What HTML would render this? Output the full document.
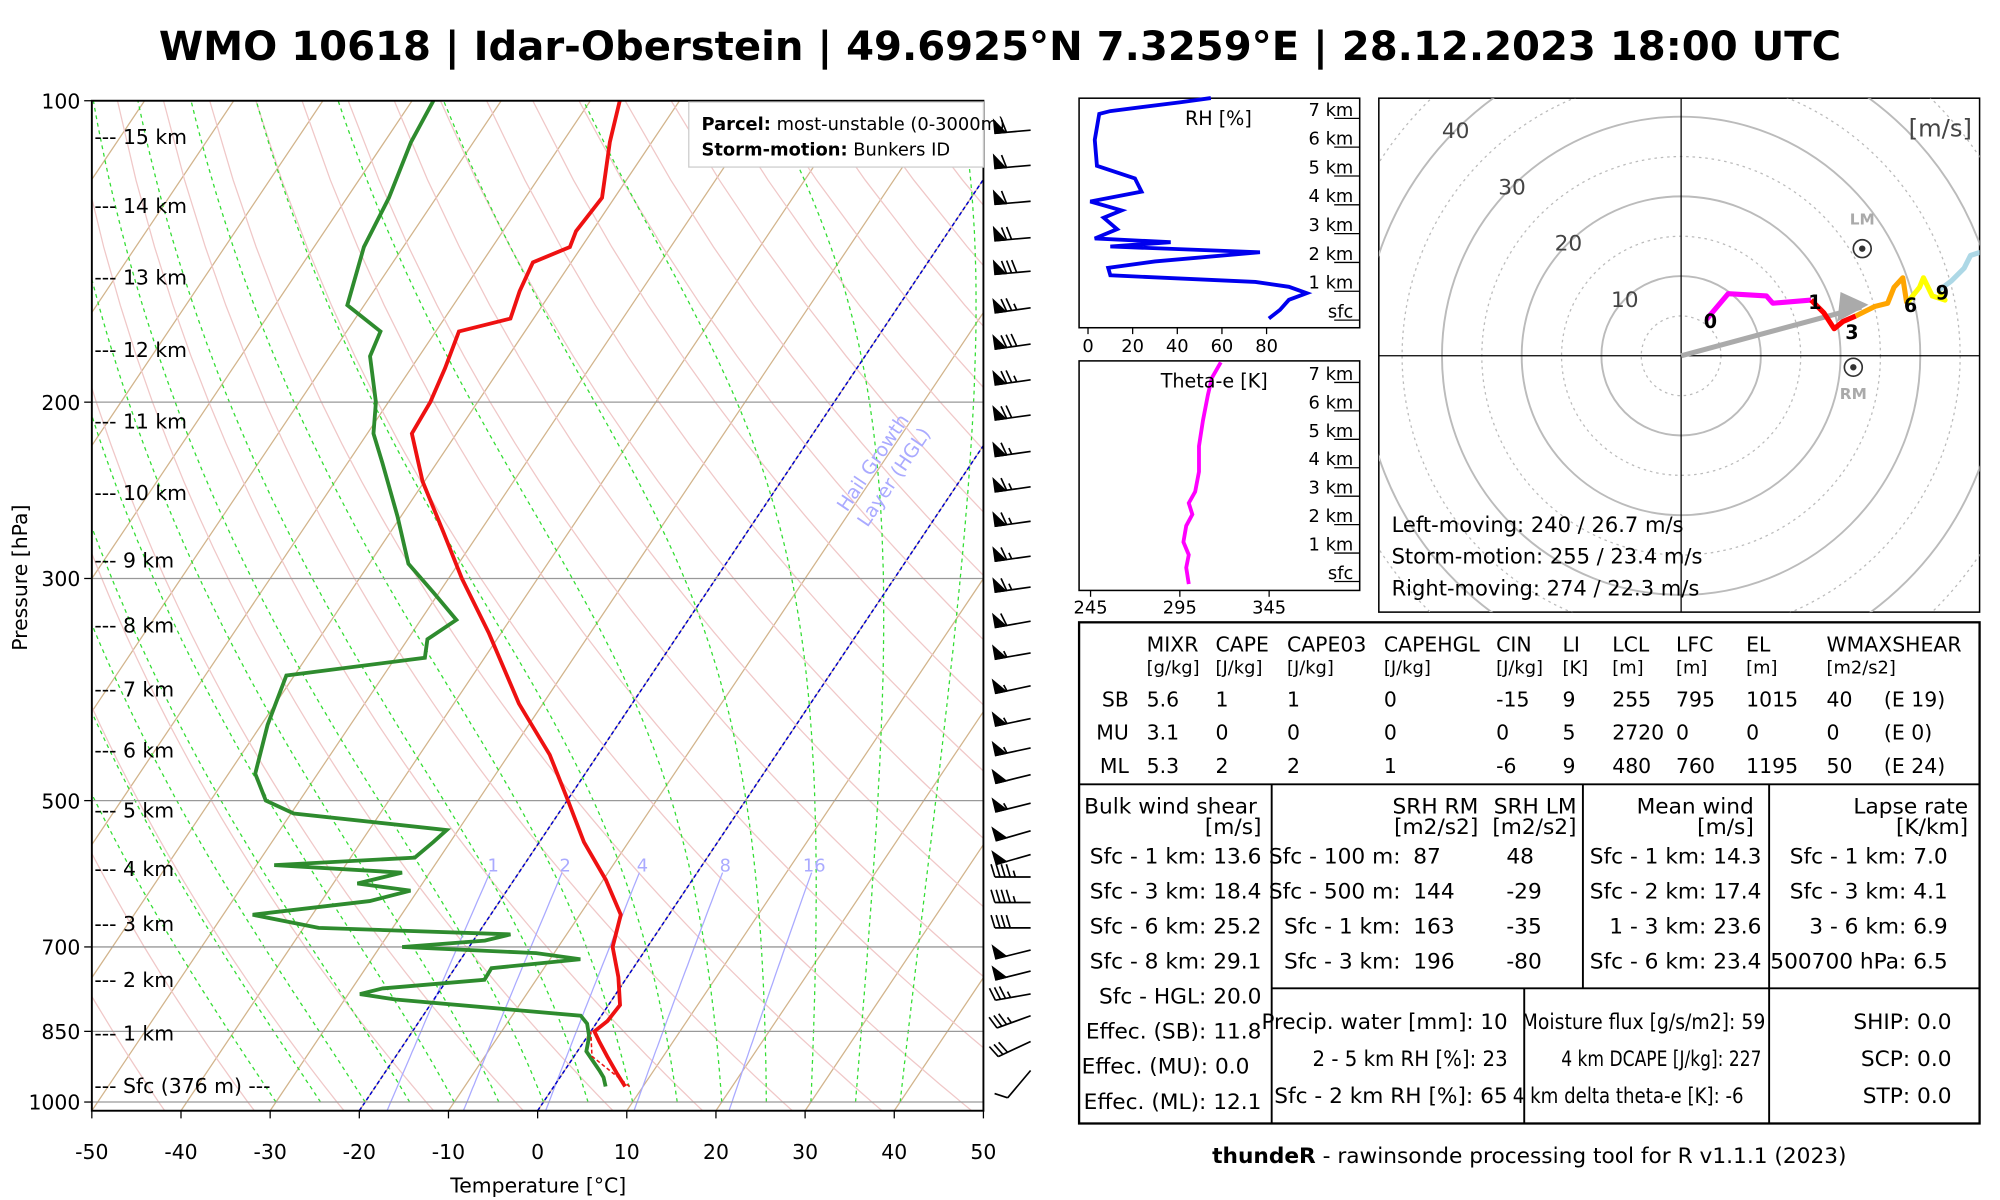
<!DOCTYPE html>
<html><head><meta charset="utf-8"><style>
html,body{margin:0;padding:0;background:#fff;}
svg{display:block;}
text{font-family:"DejaVu Sans","Liberation Sans",sans-serif;}
.tb{font-size:16px;}
</style></head><body>
<svg id="s" width="2000" height="1200" viewBox="0 0 1568 941" preserveAspectRatio="none" xmlns="http://www.w3.org/2000/svg">
<defs><clipPath id="cp"><rect x="72" y="79" width="699" height="792"/></clipPath>
<clipPath id="hc"><rect x="1081" y="77" width="471" height="403"/></clipPath></defs>
<text x="784" y="47" text-anchor="middle" font-size="31.5" font-weight="bold">WMO 10618 | Idar-Oberstein | 49.6925°N 7.3259°E | 28.12.2023 18:00 UTC</text>
<g id="bg" clip-path="url(#cp)"></g>
<g id="prof" clip-path="url(#cp)"></g>
<g id="ax"></g>
<g id="barbs"></g>
<g id="rh"></g>
<g id="te"></g>
<g id="hodo"></g>
<g id="tbl" class="tb"></g>
<text x="1199" y="912" text-anchor="middle" font-size="17"><tspan font-weight="bold">thundeR</tspan> - rawinsonde processing tool for R v1.1.1 (2023)</text>
</svg>
<script>
// ---- data ----
const tempP=[100,110,125,135,140,145,155,165,170,185,200,215,240,270,300,340,400,450,500,550,600,650,700,750,800,830,850,870,900,935,965];
const tempT=[-66.7,-64.7,-61.4,-61.8,-61.3,-64.3,-63.6,-62.6,-67.4,-66.2,-65.3,-65,-60.2,-54,-48.5,-41.4,-32.7,-25.4,-19.9,-15,-9.7,-5.4,-3.9,-1,1.3,1.1,0.4,1.7,3.7,6,8];
const dewP=[100,110,125,140,160,170,180,200,215,230,260,290,310,330,345,360,375,420,470,500,515,535,550,570,580,590,605,615,630,650,670,680,690,700,710,720,735,755,770,780,790,820,835,860,890,930,945,965];
const dewT=[-87.6,-87,-85.3,-84.4,-81.9,-76.2,-75.5,-71.4,-69.3,-66.1,-60.4,-55.6,-50.6,-46,-47.8,-46.7,-60.9,-59.3,-57,-53.8,-49.7,-31.3,-31.9,-32.8,-48,-33.1,-37.3,-30.8,-34.6,-46.7,-38.3,-16.3,-18.7,-27.5,-12,-6.6,-15.9,-15.8,-26.6,-28.7,-24.3,-2.3,-1,0.2,1,3.9,4.9,5.8];
const barbP=[107,116,126,137,148,161,175,190,206,224,243,263,285,306,331,356,384,414,443,471,503,536,566,596,632,670,705,740,780,820,870,930];
const barbSpd=[60,60,60,70,80,75,80,75,70,65,65,65,65,65,60,55,55,55,55,50,55,50,50,45,45,40,50,50,35,35,30,10];
const barbDir=[265,265,265,265,265,262,262,262,262,262,262,262,262,262,260,260,258,258,258,256,256,254,254,270,270,270,256,256,260,250,245,220];
const rhVal=[81,86,90,98,90,75,10,9,30,77,10,37,3,13,7,15,1,24,21,4,3,5,10,41,55];
const rhH=[-0.3,0,0.35,0.58,0.8,0.97,1.2,1.46,1.68,2.0,2.2,2.35,2.48,2.8,3.2,3.45,3.76,4.1,4.56,5.0,5.9,6.8,6.9,7.2,7.35];
const teVal=[300,298.6,300,297,298.6,302,300,303.6,305.7,305.7,307.9,310.7,312.9,317.9];
const teH=[-0.45,0.13,0.58,1.03,1.6,2.0,2.4,2.8,3.5,4.4,5.3,6.2,6.8,7.35];
const hodoU=[3.2,5.9,10.7,11.5,16.3,17.1,17.9,19.2,20.3,21.9,24.3,25.9,26.7,27.8,28.3,29.9,30.4,31.5,33.1,32.3,33.9,35.5,36.3,37.5];
const hodoV=[4.6,7.8,7.5,6.6,7.0,6.2,5.4,3.4,4.3,5.0,6.2,6.6,8.6,9.8,6.6,8.6,9.8,7.5,7.0,8.2,9.4,11,12.6,13];
const hodoSeg=[[0,4,'#ff00ff'],[4,9,'#ff0000'],[9,14,'#ffa500'],[14,19,'#ffff00'],[19,23,'#add8e6']];
const xTicks=[-50,-40,-30,-20,-10,0,10,20,30,40,50];
const pTicks=[100,200,300,500,700,850,1000];
const kmLabels=['15 km','14 km','13 km','12 km','11 km','10 km','9 km','8 km','7 km','6 km','5 km','4 km','3 km','2 km','1 km'];
const kmY=[107,161,217,274,330,386,439,490,540,588,635,681,724,768,810];
const mixW=[1,2,4,8,16];

const NS='http://www.w3.org/2000/svg';
function el(par,tag,at,txt){const e=document.createElementNS(NS,tag);for(const k in at)e.setAttribute(k,at[k]);if(txt!==undefined)e.textContent=txt;par.appendChild(e);return e;}
const G=id=>document.getElementById(id);
const yP=p=>79+341*Math.log(p/100);
const xT=(T,p)=>72+(T+50)*6.99+(871-yP(p))*0.67;
const PB=1020;
function pts(a){return a.map(q=>q[0].toFixed(1)+','+q[1].toFixed(1)).join(' ');}

// background
const bg=G('bg');
for(let T=-160;T<=50;T+=10){const l=el(bg,'line',{x1:xT(T,PB),y1:yP(PB),x2:xT(T,100),y2:yP(100),stroke:'#d2b48c','stroke-width':1});
}
for(let th=230;th<=520;th+=10){const a=[];for(let p=PB;p>=100;p-=20)a.push([xT(th*Math.pow(p/1000,0.286)-273.15,p),yP(p)]);
const l=el(bg,'polyline',{points:pts(a),fill:'none',stroke:'#f0c8c8','stroke-width':1});
}
function es(T){return 6.112*Math.exp(17.67*T/(T+243.5));}
for(let T0=-30;T0<=40;T0+=5){let T=T0+273.15;const a=[];for(let p=1000;p>=100;p-=5){
 a.push([xT(T-273.15,p),yP(p)]);
 const rs=0.622*es(T-273.15)/(p-es(T-273.15));const Lv=2.5e6,Rd=287,cp=1004;
 const dTdp=(1/p)*(Rd*T+Lv*rs)/(cp+Lv*Lv*rs*0.622/(Rd*T*T));T-=dTdp*5;}
 const l=el(bg,'polyline',{points:pts(a),fill:'none',stroke:'#33dd33','stroke-width':1,'stroke-dasharray':'3,3'});
 }
mixW.forEach(w=>{const a=[];for(let p=PB;p>=590;p-=10){const e=w*p/(622+w);const L=Math.log(e/6.112);a.push([xT(243.5*L/(17.67-L),p),yP(p)]);}
 const l=el(bg,'polyline',{points:pts(a),fill:'none',stroke:'#aaaaff','stroke-width':1});
 
 const e=w*580/(622+w);const L=Math.log(e/6.112);
 const t=el(bg,'text',{x:xT(243.5*L/(17.67-L),580),y:yP(580)+5,'font-size':14,fill:'#aaaaff','text-anchor':'middle'},String(w));
 });
[-20,0].forEach(T=>{const l=el(bg,'line',{x1:xT(T,PB),y1:yP(PB),x2:xT(T,100),y2:yP(100),stroke:'#0000cc','stroke-width':1.2,'stroke-dasharray':'3,2'});
 });
{const t=el(bg,'text',{x:0,y:0,'font-size':15,fill:'#aaaaff',transform:'translate(664,402) rotate(-56)'},'Hail Growth');

const t2=el(bg,'text',{x:0,y:0,'font-size':15,fill:'#aaaaff',transform:'translate(680,414) rotate(-56)'},'Layer (HGL)');
}
pTicks.forEach(p=>{const l=el(bg,'line',{x1:72,x2:771,y1:yP(p),y2:yP(p),stroke:'#999','stroke-width':1});
 });
// profiles
const pr=G('prof');
{const l=el(pr,'polyline',{points:pts(dewP.map((p,i)=>[xT(dewT[i],p),yP(p)])),fill:'none',stroke:'#2e8b2e','stroke-width':3});

const l2=el(pr,'polyline',{points:pts(tempP.map((p,i)=>[xT(tempT[i],p),yP(p)])),fill:'none',stroke:'#ee1111','stroke-width':3});

const l3=el(pr,'polyline',{points:pts([[xT(8.5,965),yP(965)],[xT(2,900),yP(900)],[xT(0,850),yP(850)]]),fill:'none',stroke:'#ee1111','stroke-width':1.2,'stroke-dasharray':'3,2'});
}
// axes
const ax=G('ax');
{const r=el(ax,'rect',{x:72,y:79,width:699,height:792,fill:'none',stroke:'#000','stroke-width':1.5});}
xTicks.forEach(T=>{const x=72+(T+50)*6.99;el(ax,'line',{x1:x,x2:x,y1:871,y2:877,stroke:'#000'});
 const t=el(ax,'text',{x:x,y:909,'font-size':16,'text-anchor':'middle'},String(T));});
pTicks.forEach(p=>{el(ax,'line',{x1:66,x2:72,y1:yP(p),y2:yP(p),stroke:'#000'});
 const t=el(ax,'text',{x:63,y:yP(p)+6,'font-size':16,'text-anchor':'end'},String(p));});
{const t=el(ax,'text',{x:422,y:935,'font-size':16,'text-anchor':'middle'},'Temperature [°C]');
const t2=el(ax,'text',{x:0,y:0,'font-size':16,'text-anchor':'middle',transform:'translate(21,453) rotate(-90)'},'Pressure [hPa]');}
kmLabels.forEach((k,i)=>{const t=el(ax,'text',{x:74,y:kmY[i]+6,'font-size':16},'--- '+k);});
{const t=el(ax,'text',{x:74,y:857,'font-size':16},'--- Sfc (376 m) ---');
const r=el(ax,'rect',{x:540,y:80,width:231,height:51,fill:'#fff',stroke:'#ccc'});
const a=el(ax,'text',{x:550,y:102,'font-size':14},'');a.innerHTML='<tspan font-weight="bold">Parcel:</tspan> most-unstable (0-3000m)';
const b=el(ax,'text',{x:550,y:122,'font-size':14},'');b.innerHTML='<tspan font-weight="bold">Storm-motion:</tspan> Bunkers ID';}
// barbs
const bb=G('barbs');
barbP.forEach((p,i)=>{const y=yP(p),x=808,d=barbDir[i]*Math.PI/180,L=28;const ux=Math.sin(d),uy=-Math.cos(d);
 const g=el(bb,'g',{stroke:'#000','stroke-width':1.3,fill:'#000'});
 const ex=x+ux*L,ey=y+uy*L;el(g,'line',{x1:x,y1:y,x2:ex,y2:ey});
 const px=-uy,py=ux;
 let s=barbSpd[i],pos=0;const nx=ux,ny=uy;
 function at(o){return [ex-nx*o,ey-ny*o];}
 if(barbDir[i]<=225&&s<=10){el(g,'line',{x1:ex,y1:ey,x2:ex-uy*10+ux*4,y2:ey+ux*10+uy*4});return;}
 while(s>=50){const a=at(pos),b=at(pos+8);el(g,'polygon',{points:pts([a,b,[a[0]+px*10,a[1]+py*10]])});pos+=9;s-=50;}
 while(s>=10){const a=at(pos);el(g,'line',{x1:a[0],y1:a[1],x2:a[0]+px*10+ux*3,y2:a[1]+py*10+uy*3});pos+=4;s-=10;}
 if(s>=5){const a=at(pos+(pos?0:4));el(g,'line',{x1:a[0],y1:a[1],x2:a[0]+px*5+ux*1.5,y2:a[1]+py*5+uy*1.5});}
});
// RH panel
const rh=G('rh');
{const r=el(rh,'rect',{x:846,y:77,width:220,height:180,fill:'none',stroke:'#000','stroke-width':1.2});
const rx=v=>853+v*1.75,ry=h=>243-22.6*h;
const l=el(rh,'polyline',{points:pts(rhVal.map((v,i)=>[rx(v),ry(rhH[i])])),fill:'none',stroke:'#0000ee','stroke-width':3});
[0,20,40,60,80].forEach(v=>{el(rh,'line',{x1:rx(v),x2:rx(v),y1:257,y2:262,stroke:'#000'});const t=el(rh,'text',{x:rx(v),y:276,'font-size':14,'text-anchor':'middle'},String(v));});
['sfc','1 km','2 km','3 km','4 km','5 km','6 km','7 km'].forEach((k,i)=>{const y=ry(i);el(rh,'line',{x1:1046,x2:1066,y1:y+8,y2:y+8,stroke:'#000'});
 const t=el(rh,'text',{x:1061,y:y+6,'font-size':14,'text-anchor':'end',fill:'#000'},k);});
const t=el(rh,'text',{x:929,y:98,'font-size':15},'RH [%]');}
// theta-e
const te=G('te');
{const r=el(te,'rect',{x:846,y:283,width:220,height:180,fill:'none',stroke:'#000','stroke-width':1.2});
const tx=v=>855+(v-245)*1.4,ty=h=>448-22.3*h;
const l=el(te,'polyline',{points:pts(teVal.map((v,i)=>[tx(v),ty(teH[i])])),fill:'none',stroke:'#ff00ff','stroke-width':3});
[245,295,345].forEach(v=>{el(te,'line',{x1:tx(v),x2:tx(v),y1:463,y2:468,stroke:'#000'});const t=el(te,'text',{x:tx(v),y:481,'font-size':14,'text-anchor':'middle'},String(v));});
['sfc','1 km','2 km','3 km','4 km','5 km','6 km','7 km'].forEach((k,i)=>{const y=ty(i);el(te,'line',{x1:1046,x2:1066,y1:y+8,y2:y+8,stroke:'#000'});
 const t=el(te,'text',{x:1061,y:y+6,'font-size':14,'text-anchor':'end'},k);});
const t=el(te,'text',{x:910,y:304,'font-size':15},'Theta-e [K]');}
// hodograph
const ho=G('hodo');
{const cx=1318,cy=279,k=6.25;const hx=u=>cx+u*k,hy=v=>cy-v*k;
const r=el(ho,'rect',{x:1081,y:77,width:471,height:403,fill:'none',stroke:'#000','stroke-width':1.2});
const g=el(ho,'g',{'clip-path':'url(#hc)'});
for(let s=5;s<=60;s+=5){const c=el(g,'circle',{cx:cx,cy:cy,r:s*k,fill:'none',stroke:'#bbb','stroke-width':s%10?1:1.5,'stroke-dasharray':s%10?'2,3':'none'});}
el(g,'line',{x1:1081,x2:1552,y1:cy,y2:cy,stroke:'#000'});el(g,'line',{x1:cx,x2:cx,y1:77,y2:480,stroke:'#000'});
[10,20,30,40].forEach(s=>{const t=el(g,'text',{x:cx-s*k*0.707,y:cy-s*k*0.707+6,'font-size':17,fill:'#444','text-anchor':'middle'},String(s));});
const ar=el(g,'line',{x1:cx,y1:cy,x2:hx(22.6),y2:hy(6.1),stroke:'#aaa','stroke-width':4});
el(g,'polygon',{points:pts([[hx(23.5),hy(6.4)],[hx(20),hy(8)],[hx(19.6),hy(4.3)]]),fill:'#aaa'});
hodoSeg.forEach(sg=>{const a=[];for(let i=sg[0];i<=sg[1];i++)a.push([hx(hodoU[i]),hy(hodoV[i])]);
 const l=el(g,'polyline',{points:pts(a),fill:'none',stroke:sg[2],'stroke-width':4,'stroke-linejoin':'round'});});
[[0,'0'],[4,'1'],[9,'3'],[14,'6'],[19,'9']].forEach(q=>{const t=el(g,'text',{x:hx(hodoU[q[0]])+(q[1]=='3'?-3:3),y:hy(hodoV[q[0]])+(q[1]=='3'?18:7),'font-size':15,'font-weight':'bold','text-anchor':'middle'},q[1]);});
[[1460,195,'LM',-19],[1453,288,'RM',25]].forEach(q=>{const c=el(g,'circle',{cx:q[0],cy:q[1],r:7,fill:'none',stroke:'#333','stroke-width':1.3});el(g,'circle',{cx:q[0],cy:q[1],r:2.5,fill:'#333'});
 const t=el(g,'text',{x:q[0],y:q[1]+q[3],'font-size':12,fill:'#aaa','font-weight':'bold','text-anchor':'middle'},q[2]);});
const u=el(ho,'text',{x:1546,y:107,'font-size':19,fill:'#444','text-anchor':'end'},'[m/s]');
['Left-moving: 240 / 26.7 m/s','Storm-motion: 255 / 23.4 m/s','Right-moving: 274 / 22.3 m/s'].forEach((s,i)=>{const t=el(ho,'text',{x:1091,y:417+i*25,'font-size':16.5},s);});}
// table
const tb=G('tbl');
{const L=(x1,y1,x2,y2)=>{const l=el(tb,'line',{x1,y1,x2,y2,stroke:'#000','stroke-width':1.5});};
const r=el(tb,'rect',{x:846,y:488,width:706,height:393,fill:'none',stroke:'#000','stroke-width':1.8});
L(846,615,1552,615);L(997,775,1552,775);L(997,615,997,881);L(1241,615,1241,775);L(1387,615,1387,881);L(1195,775,1195,881);
const T=(x,y,s,a,n,fs,tl)=>{const o={x,y,'text-anchor':a||'start','font-size':fs||16};if(tl){o.textLength=tl;o.lengthAdjust='spacingAndGlyphs';}const t=el(tb,'text',o,s);};
const cols=[899,953,1009,1085,1173,1225,1264,1314,1369,1432,1477];
['MIXR','CAPE','CAPE03','CAPEHGL','CIN','LI','LCL','LFC','EL','WMAXSHEAR'].forEach((s,i)=>T(cols[i],511,s,'start','table-header'));
['[g/kg]','[J/kg]','[J/kg]','[J/kg]','[J/kg]','[K]','[m]','[m]','[m]','[m2/s2]'].forEach((s,i)=>T(cols[i],528,s,'start','table-unit',14));
const rows=[['SB','5.6','1','1','0','-15','9','255','795','1015','40','(E 19)'],['MU','3.1','0','0','0','0','5','2720','0','0','0','(E 0)'],['ML','5.3','2','2','1','-6','9','480','760','1195','50','(E 24)']];
rows.forEach((r,j)=>{T(885,554+j*26,r[0],'end','row-label');r.slice(1).forEach((v,i)=>T(cols[i],554+j*26,v));});
const F=17;
T(850,638,'Bulk wind shear','start','table-header',F);T(989,654,'[m/s]','end','table-unit',F);
['Sfc - 1 km: 13.6','Sfc - 3 km: 18.4','Sfc - 6 km: 25.2','Sfc - 8 km: 29.1','Sfc - HGL: 20.0','Effec. (SB): 11.8','Effec. (MU): 0.0','Effec. (ML): 12.1'].forEach((s,i)=>T(i==6?848:989,677+i*27.5,s,i==6?'start':'end','table-cell',F));
T(1159,638,'SRH RM','end','table-header',F);T(1236,638,'SRH LM','end','table-header',F);T(1159,654,'[m2/s2]','end','table-unit',F);T(1236,654,'[m2/s2]','end','table-unit',F);
[['Sfc - 100 m:','87','48'],['Sfc - 500 m:','144','-29'],['Sfc - 1 km:','163','-35'],['Sfc - 3 km:','196','-80']].forEach((r,i)=>{T(1098,677+i*27.5,r[0],'end','table-cell',F);T(1108,677+i*27.5,r[1],'start','table-cell',F);T(1181,677+i*27.5,r[2],'start','table-cell',F);});
T(1375,638,'Mean wind','end','table-header',F);T(1375,654,'[m/s]','end','table-unit',F);
['Sfc - 1 km: 14.3','Sfc - 2 km: 17.4','1 - 3 km: 23.6','Sfc - 6 km: 23.4'].forEach((s,i)=>T(1381,677+i*27.5,s,'end','table-cell',F));
T(1543,638,'Lapse rate','end','table-header',F);T(1543,654,'[K/km]','end','table-unit',F);
['Sfc - 1 km: 7.0','Sfc - 3 km: 4.1','3 - 6 km: 6.9','500700 hPa: 6.5'].forEach((s,i)=>T(1527,677+i*27.5,s,'end','table-cell',F));
const pw=[193,153,183];
['Precip. water [mm]: 10','2 - 5 km RH [%]: 23','Sfc - 2 km RH [%]: 65'].forEach((s,i)=>T(1182,807+i*29,s,'end','table-cell',F,pw[i]));
const mx=[1384,1381,1367],ml=[191,157,181];
['Moisture flux [g/s/m2]: 59','4 km DCAPE [J/kg]: 227','4 km delta theta-e [K]: -6'].forEach((s,i)=>T(mx[i],807+i*29,s,'end','table-cell',F,ml[i]));
['SHIP: 0.0','SCP: 0.0','STP: 0.0'].forEach((s,i)=>T(1530,807+i*29,s,'end','table-cell',F));}
</script>
</body></html>
